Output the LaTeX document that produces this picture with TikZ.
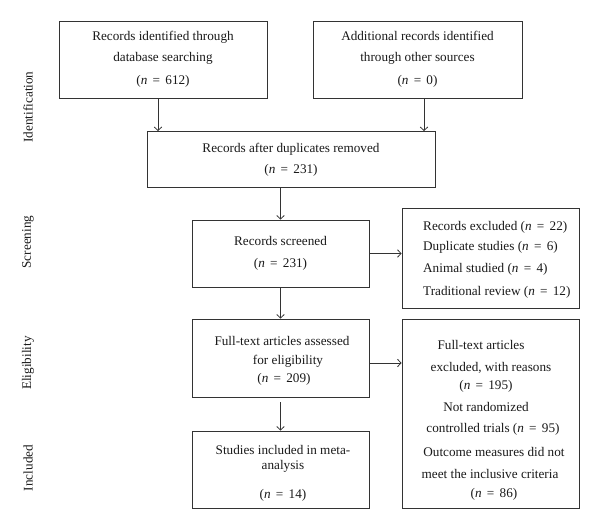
\documentclass[tikz,border=0pt]{standalone}
\usepackage{fontspec}
\setmainfont{Liberation Serif}
\usetikzlibrary{arrows.meta}
\definecolor{lc}{HTML}{333333}
\definecolor{tc}{HTML}{1A1A1A}
\newcommand{\nval}[1]{(\textit{n}\hspace{0.4em}=\hspace{0.4em}#1)}
\begin{document}
\begin{tikzpicture}[x=1pt,y=-1pt,
  box/.style={draw=lc,line width=0.9pt,rectangle,inner sep=0pt,text=tc,align=center,
    font=\fontsize{13.2}{21}\selectfont},
  txt/.style={inner sep=0pt,text=tc,font=\fontsize{13.2}{14}\selectfont,anchor=base},
  phase/.style={inner sep=0pt,text=tc,rotate=90,font=\fontsize{13.2}{14}\selectfont},
  arr/.style={draw=lc,line width=0.8pt,-{Straight Barb[length=3.5pt,width=7.5pt]}}]
\useasboundingbox (0,0) rectangle (600,529);
\fill[white] (0,0) rectangle (600,529);
% boxes
\node[box,minimum width=208pt,minimum height=77pt] (b1) at (163,59.5)
  {Records identified through\\database searching\\[2pt]\nval{612}};
\node[box,minimum width=209pt,minimum height=77pt] (b2) at (417.5,59.5)
  {Additional records identified\\through other sources\\[2pt]\nval{0}};
\node[box,minimum width=288pt,minimum height=56pt] (b3) at (291,159.5)
  {Records after duplicates removed\\\nval{231}};
\node[box,minimum width=177pt,minimum height=67pt] (b4) at (280.5,253.5)
  {Records screened\\[1pt]\nval{231}};
\node[box,minimum width=177pt,minimum height=100pt] (b5) at (490.5,258) {};
\node[txt,anchor=base west] (b5a) at (423,231) {Records excluded \nval{22}};
\node[txt,anchor=base west] (b5b) at (423,251) {Duplicate studies \nval{6}};
\node[txt,anchor=base west] (b5c) at (423,273) {Animal studied \nval{4}};
\node[txt,anchor=base west] (b5d) at (423,296) {Traditional review \nval{12}};
\node[box,minimum width=177pt,minimum height=78pt] (b6) at (280.5,358) {};
\node[txt] (b6a) at (282,346) {Full-text articles assessed};
\node[txt] (b6b) at (288,365) {for eligibility};
\node[txt] (b6c) at (284,383) {\nval{209}};
\node[box,minimum width=177pt,minimum height=189pt] (b7) at (490.5,413.5) {};
\node[txt] (b7a) at (481,350) {Full-text articles};
\node[txt] (b7b) at (491,371) {excluded, with reasons};
\node[txt] (b7c) at (486,389) {\nval{195}};
\node[txt] (b7d) at (486,411) {Not randomized};
\node[txt] (b7e) at (493,432) {controlled trials \nval{95}};
\node[txt] (b7f) at (494,456) {Outcome measures did not};
\node[txt] (b7g) at (490,478) {meet the inclusive criteria};
\node[txt] (b7h) at (494,497) {\nval{86}};
\node[box,minimum width=177pt,minimum height=77pt] (b8) at (280.5,469.5) {};
\node[txt] (b8a) at (283,454) {Studies included in meta-};
\node[txt] (b8b) at (283,469) {analysis};
\node[txt] (b8c) at (283,498) {\nval{14}};
% phase labels
\node[phase] (p1) at (28,107) {Identification};
\node[phase] (p2) at (28,242) {Screening};
\node[phase] (p3) at (28,363) {Eligibility};
\node[phase] (p4) at (28,468) {Included};
% arrows
\draw[arr] ([xshift=-5pt]b1.south) -- ([xshift=-5pt]b1.south |- b3.north);
\draw[arr] ([xshift=6.5pt]b2.south) -- ([xshift=6.5pt]b2.south |- b3.north);
\draw[arr] (b4.north |- b3.south) -- (b4.north);
\draw[arr] (b4.east) -- (b4.east -| b5.west);
\draw[arr] (b4.south) -- (b6.north);
\draw[arr] ([yshift=-5pt]b6.east) -- ([yshift=-5pt]b6.east -| b7.west);
\draw[arr,shorten <=5pt] (b6.south) -- (b8.north);
\end{tikzpicture}
\end{document}
